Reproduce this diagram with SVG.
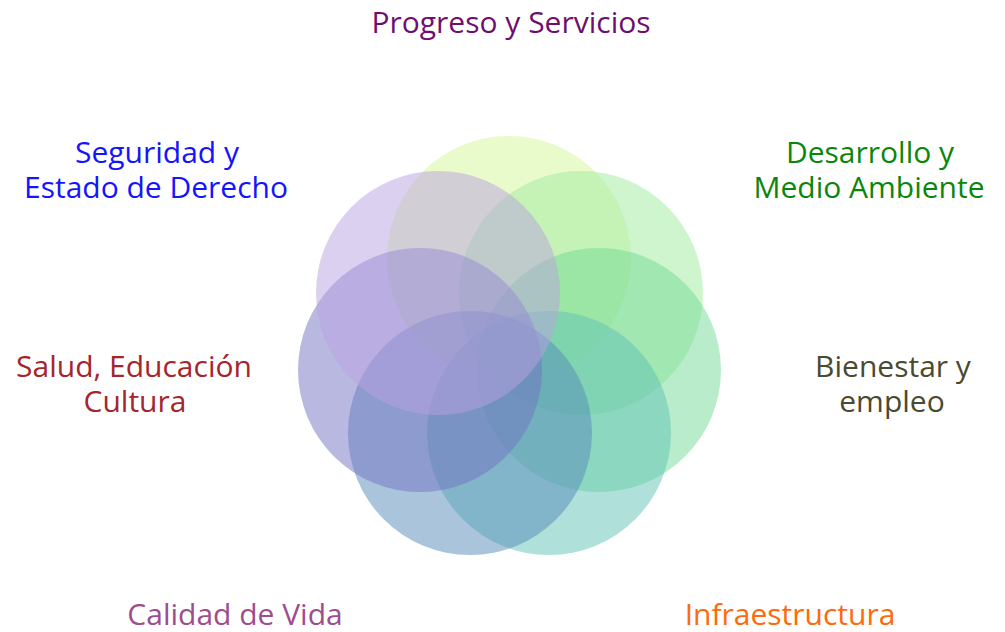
<svg xmlns="http://www.w3.org/2000/svg" width="1005" height="632" viewBox="0 0 1005 632">
<style>
text{font-family:"Open Sans","DejaVu Sans",sans-serif;font-size:30px;text-anchor:middle}
.c{opacity:0.5}
</style>
<rect width="1005" height="632" fill="#ffffff"/>
<g id="circles">
<circle id="c1" class="c" cx="509" cy="258" r="122" fill="#d4f597"/>
<circle id="c2" class="c" cx="581" cy="293" r="122" fill="#a0eb9f"/>
<circle id="c3" class="c" cx="599" cy="370" r="122" fill="#74d995"/>
<circle id="c4" class="c" cx="549" cy="433" r="122" fill="#5fc1b3"/>
<circle id="c5" class="c" cx="470" cy="433" r="122" fill="#5689b9"/>
<circle id="c6" class="c" cx="420" cy="370" r="122" fill="#7171c1"/>
<circle id="c7" class="c" cx="438" cy="293" r="122" fill="#b9a1e1"/>
</g>
<g id="labels">
<g id="n1"><text x="511" y="33" fill="#6e0f70">Progreso y Servicios</text></g>
<g id="n2"><text fill="#1414ff"><tspan x="157" y="163">Seguridad y</tspan><tspan x="156" y="198">Estado de Derecho</tspan></text></g>
<g id="n3"><text fill="#0a870a"><tspan x="870" y="163">Desarrollo y</tspan><tspan x="869" y="198">Medio Ambiente</tspan></text></g>
<g id="n4"><text fill="#a4262c"><tspan x="134" y="377">Salud, Educación</tspan><tspan x="135" y="412">Cultura</tspan></text></g>
<g id="n5"><text fill="#4a4a30"><tspan x="893" y="377">Bienestar y</tspan><tspan x="892" y="412">empleo</tspan></text></g>
<g id="n6"><text x="235" y="625" fill="#9e4d8e">Calidad de Vida</text></g>
<g id="n7"><text x="790" y="625" fill="#ff6a0a">Infraestructura</text></g>
</g>
</svg>
